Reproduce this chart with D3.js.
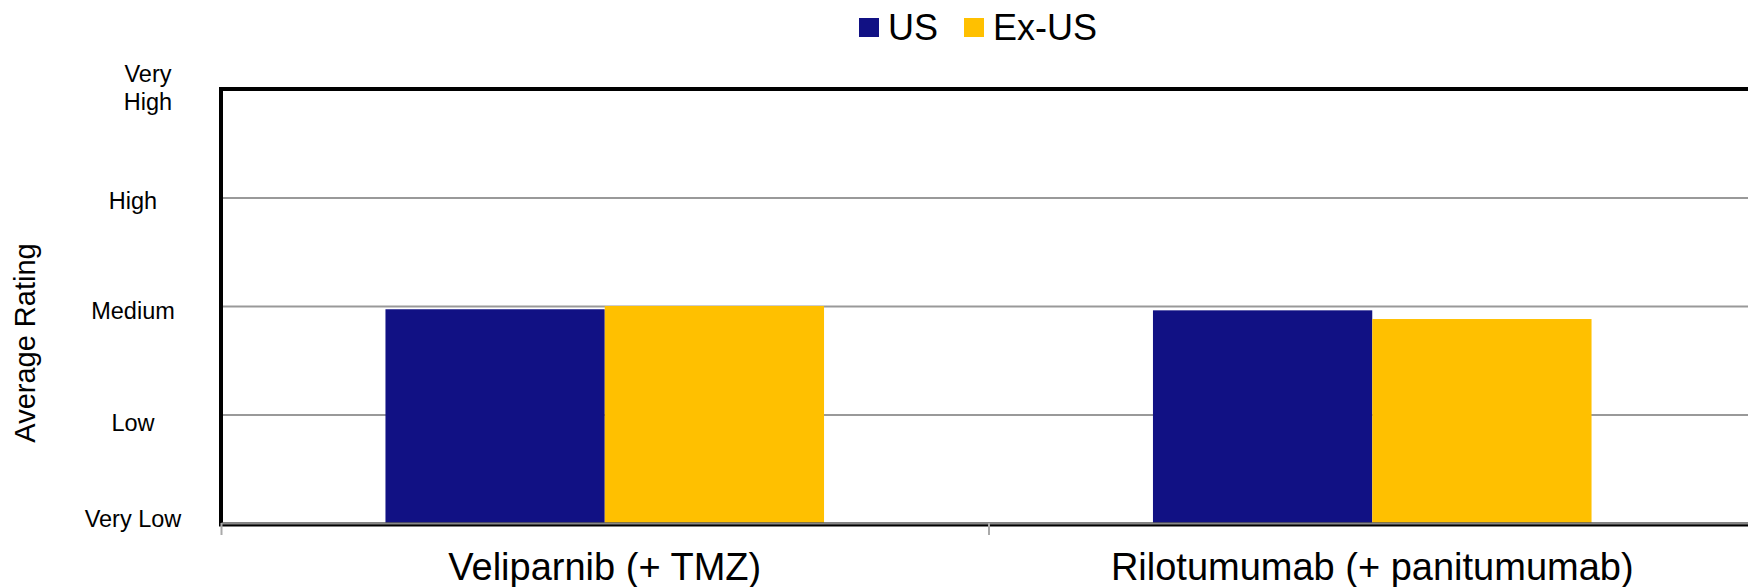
<!DOCTYPE html>
<html>
<head>
<meta charset="utf-8">
<script src="https://cdn.jsdelivr.net/npm/d3@7"></script>
<style>
  body { margin: 0; background: #fff; }
  text { font-family: "Liberation Sans", Arial, sans-serif; fill: #000; }
</style>
</head>
<body>
<div id="chart"></div>
<script>
// chart data
const categories = ["Veliparnib (+ TMZ)", "Rilotumumab (+ panitumumab)"];
const seriesNames = ["US", "Ex-US"];
const usValues = [1.97, 1.96];
const exUsValues = [2.0, 1.88];
const ratingLabels = ["Very Low", "Low", "Medium", "High", "Very High"];

const colors = {"US": "#111184", "Ex-US": "#FFC000"};

// dimensions
const width = 1748;
const height = 587;
const plot = {left: 221, right: 1756, top: 89, bottom: 523};
const labelNudge = [4, 16, 13, 11, -7]; // excel places the rating labels unevenly

const svg = d3.select("#chart")
  .append("svg")
  .attr("width", width)
  .attr("height", height);

// scales
const yScale = d3.scaleLinear()
  .domain([0, ratingLabels.length - 1])
  .range([plot.bottom, plot.top]);

const xScale = d3.scaleBand()
  .domain(categories)
  .range([plot.left, plot.right])
  .padding(0);

// 2 bars + 150% gap per category
const xInner = d3.scaleBand()
  .domain(seriesNames)
  .range([0, xScale.bandwidth()])
  .paddingOuter(0.75)
  .paddingInner(0);

// gridlines
svg.append("g")
  .attr("transform", `translate(${plot.left},0)`)
  .call(d3.axisLeft(yScale)
    .tickValues(d3.range(1, ratingLabels.length - 1))
    .tickSize(-(plot.right - plot.left))
    .tickFormat(""))
  .call(g => g.select(".domain").remove())
  .call(g => g.selectAll(".tick line").attr("stroke", "#999").attr("stroke-width", 2));

// bars
const rows = categories.map((c, i) => ({cat: c, values: [
  {name: "US", value: usValues[i]},
  {name: "Ex-US", value: exUsValues[i]}
]}));

svg.selectAll(".group")
  .data(rows)
  .enter()
  .append("g")
    .attr("class", "group")
    .attr("transform", d => `translate(${xScale(d.cat)},0)`)
  .selectAll("rect")
  .data(d => d.values)
  .enter()
  .append("rect")
    .attr("x", d => xInner(d.name))
    .attr("y", d => yScale(d.value))
    .attr("width", xInner.bandwidth())
    .attr("height", d => plot.bottom - yScale(d.value))
    .attr("fill", d => colors[d.name]);

// plot frame
svg.append("rect")
  .attr("x", plot.left)
  .attr("y", plot.top)
  .attr("width", plot.right - plot.left)
  .attr("height", plot.bottom - plot.top + 1.5)
  .attr("fill", "none")
  .attr("stroke", "#000")
  .attr("stroke-width", 4);

// x axis: boundary ticks
const xEdge = d3.scaleLinear()
  .domain([0, categories.length])
  .range([plot.left, plot.right]);

svg.append("g")
  .attr("transform", `translate(0,${plot.bottom})`)
  .call(d3.axisBottom(xEdge)
    .tickValues(d3.range(categories.length + 1))
    .tickSize(12)
    .tickSizeOuter(0)
    .tickFormat(""))
  .call(g => g.select(".domain").attr("stroke", "#888").attr("stroke-width", 2))
  .call(g => g.selectAll(".tick line").attr("stroke", "#aaa").attr("stroke-width", 2));

// category labels
svg.selectAll(".cat-label")
  .data(categories)
  .enter()
  .append("text")
    .attr("class", "cat-label")
    .attr("x", d => xScale(d) + xScale.bandwidth() / 2)
    .attr("y", 580)
    .attr("text-anchor", "middle")
    .attr("font-size", "38px")
    .text(d => d);

// y tick labels (text axis)
const yLabels = svg.selectAll(".y-label")
  .data(ratingLabels)
  .enter()
  .append("text")
    .attr("class", "y-label")
    .attr("text-anchor", "middle")
    .attr("font-size", "23.5px")
    .attr("transform", (d, i) => `translate(133,${yScale(i) + labelNudge[i]})`);

yLabels.each(function(d, i) {
  const t = d3.select(this);
  if (i === ratingLabels.length - 1) {
    const words = d.split(" ");
    t.attr("transform", `translate(148,${yScale(i) + labelNudge[i]})`);
    words.forEach((w, j) => {
      t.append("tspan").attr("x", 0).attr("dy", j === 0 ? 0 : 27.5).text(w);
    });
  } else {
    t.text(d);
  }
});

// y axis title
svg.append("text")
  .attr("transform", "translate(35,343) rotate(-90)")
  .attr("text-anchor", "middle")
  .attr("font-size", "29px")
  .text("Average Rating");

// legend
const legendX = [859, 964];
const legend = svg.selectAll(".legend")
  .data(seriesNames)
  .enter()
  .append("g")
    .attr("class", "legend")
    .attr("transform", (d, i) => `translate(${legendX[i]},18)`);

legend.append("rect")
  .attr("width", 20)
  .attr("height", 19)
  .attr("fill", d => colors[d]);

legend.append("text")
  .attr("x", 29)
  .attr("y", 22)
  .attr("font-size", "36px")
  .text(d => d);
</script>
</body>
</html>
